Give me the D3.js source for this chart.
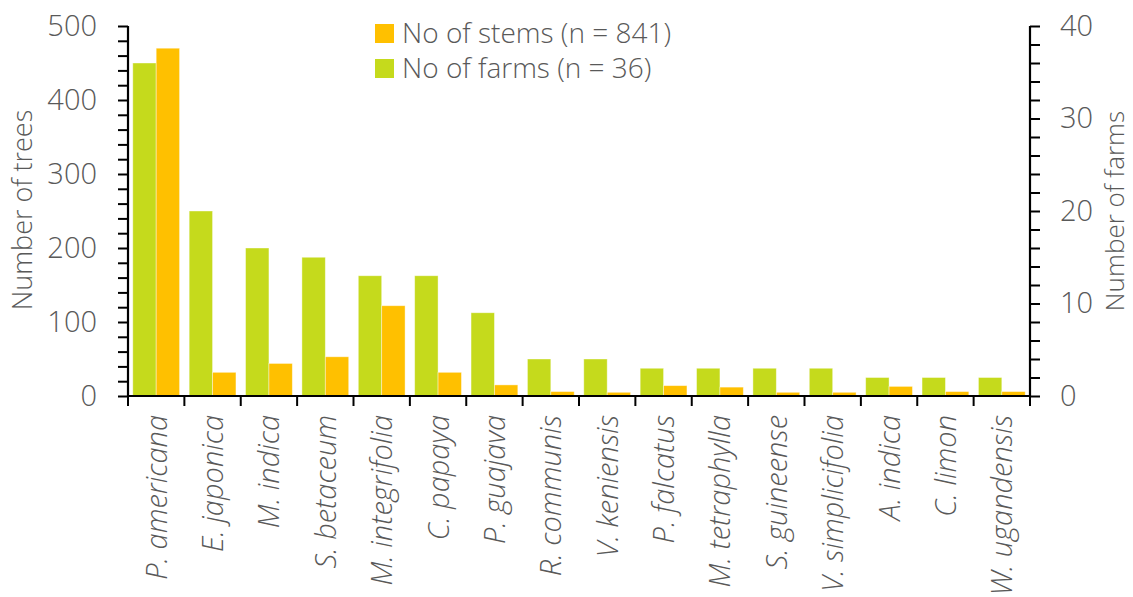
<!DOCTYPE html>
<html>
<head>
<meta charset="utf-8">
<script src="https://cdn.jsdelivr.net/npm/d3@7"></script>
<style>
  html, body { margin: 0; padding: 0; background: #fff; }
  svg { display: block; }
  text { font-family: "Open Sans", "Noto Sans", sans-serif; fill: #595959; font-weight: 300; }
</style>
</head>
<body>
<svg id="chart" width="1133" height="597"></svg>
<script>
// Tree species recorded on farms
const species = [
  "P. americana", "E. japonica", "M. indica", "S. betaceum", "M. integrifolia",
  "C. papaya", "P. guajava", "R. communis", "V. keniensis", "P. falcatus",
  "M. tetraphylla", "S. guineense", "V. simplicifolia", "A. indica", "C. limon",
  "W. ugandensis"
];
// Number of stems per species (left axis)
const stems = [470, 32, 44, 53, 122, 32, 15, 6, 5, 14, 12, 5, 5, 13, 6, 6];
// Number of farms where the species occurs (right axis)
const farms = [36, 20, 16, 15, 13, 13, 9, 4, 4, 3, 3, 3, 3, 2, 2, 2];

const leftTicks = [0, 100, 200, 300, 400, 500];
const rightTicks = [0, 10, 20, 30, 40];
const legendLabels = ["No of stems (n = 841)", "No of farms (n = 36)"];

const colStems = "#FFC000";
const colFarms = "#C5DA1C";

const svg = d3.select("#chart");
const m = { left: 128, right: 103, top: 26, bottom: 201 };
const W = 1133, H = 597;
const x0 = m.left, x1 = W - m.right, yTop = m.top, yBot = H - m.bottom;

const x = d3.scaleBand().domain(species).range([x0, x1]).paddingInner(0.17).paddingOuter(0.085);
const inner = d3.scaleBand().domain(["farms", "stems"]).range([0, x.bandwidth()]);
const yL = d3.scaleLinear().domain([0, 500]).range([yBot, yTop]);
const yR = d3.scaleLinear().domain([0, 40]).range([yBot, yTop]);

// Bars
const g = svg.append("g");
species.forEach((s, i) => {
  g.append("rect")
    .attr("x", x(s) + inner("farms"))
    .attr("y", yR(farms[i]))
    .attr("width", inner.bandwidth())
    .attr("height", yBot - yR(farms[i]))
    .attr("fill", colFarms)
    .attr("stroke", "#fff").attr("stroke-opacity", 0.5).attr("stroke-width", 0.8);
  g.append("rect")
    .attr("x", x(s) + inner("stems"))
    .attr("y", yL(stems[i]))
    .attr("width", inner.bandwidth())
    .attr("height", yBot - yL(stems[i]))
    .attr("fill", colStems)
    .attr("stroke", "#fff").attr("stroke-opacity", 0.5).attr("stroke-width", 0.8);
});

// Left axis
const leftAxis = d3.axisLeft(yL).tickValues(d3.range(0, 501, 20)).tickSize(10)
  .tickFormat(d => leftTicks.includes(d) ? d : "");
const gl = svg.append("g").attr("transform", `translate(${x0},0)`).call(leftAxis);
gl.select(".domain").attr("stroke", "#000").attr("stroke-width", 2.2).attr("d", `M0,${yTop}V${yBot}`);
gl.selectAll(".tick line").attr("stroke", "#000").attr("stroke-width", 2);
gl.selectAll(".tick text").attr("x", -31).attr("font-size", 29).attr("fill", "#595959")
  .style("font-family", "'Open Sans', sans-serif").style("font-weight", 300);

// Right axis
const rightAxis = d3.axisRight(yR).tickValues(d3.range(0, 41, 2)).tickSize(10)
  .tickFormat(d => rightTicks.includes(d) ? d : "");
const gr = svg.append("g").attr("transform", `translate(${x1},0)`).call(rightAxis);
gr.select(".domain").attr("stroke", "#000").attr("stroke-width", 2.2).attr("d", `M0,${yTop}V${yBot}`);
gr.selectAll(".tick line").attr("stroke", "#000").attr("stroke-width", 2);
gr.selectAll(".tick text").attr("x", 30).attr("font-size", 29).attr("fill", "#595959")
  .style("font-family", "'Open Sans', sans-serif").style("font-weight", 300);

// Category axis: baseline and ticks between groups
const gb = svg.append("g");
gb.append("line").attr("x1", x0).attr("x2", x1).attr("y1", yBot).attr("y2", yBot)
  .attr("stroke", "#000").attr("stroke-width", 2.2);
d3.range(species.length + 1).forEach(i => {
  const bx = x0 + i * x.step();
  gb.append("line")
    .attr("x1", bx).attr("x2", bx)
    .attr("y1", yBot).attr("y2", yBot + 10)
    .attr("stroke", "#000").attr("stroke-width", 2);
});
species.forEach(s => {
  const cx = x(s) + x.bandwidth() / 2;
  svg.append("text")
    .attr("transform", `translate(${cx},${yBot + 19}) rotate(-90)`)
    .attr("text-anchor", "end")
    .attr("dy", "0.36em")
    .attr("font-size", 29)
    .attr("font-style", "italic")
    .text(s);
});

// Axis titles
svg.append("text")
  .attr("transform", `translate(22,210) rotate(-90)`)
  .attr("text-anchor", "middle").attr("dy", "0.36em")
  .attr("font-size", 27)
  .text("Number of trees");
svg.append("text")
  .attr("transform", `translate(1124,211) rotate(-90)`)
  .attr("text-anchor", "middle")
  .attr("font-size", 26)
  .text("Number of farms");

// Legend
const legend = svg.append("g").attr("transform", "translate(375,24)");
[colStems, colFarms].forEach((c, i) => {
  legend.append("rect").attr("x", 0).attr("y", i * 35).attr("width", 19).attr("height", 19).attr("fill", c);
  legend.append("text").attr("x", 27).attr("y", i * 35 + 19).attr("font-size", 28).text(legendLabels[i]);
});
</script>
</body>
</html>
